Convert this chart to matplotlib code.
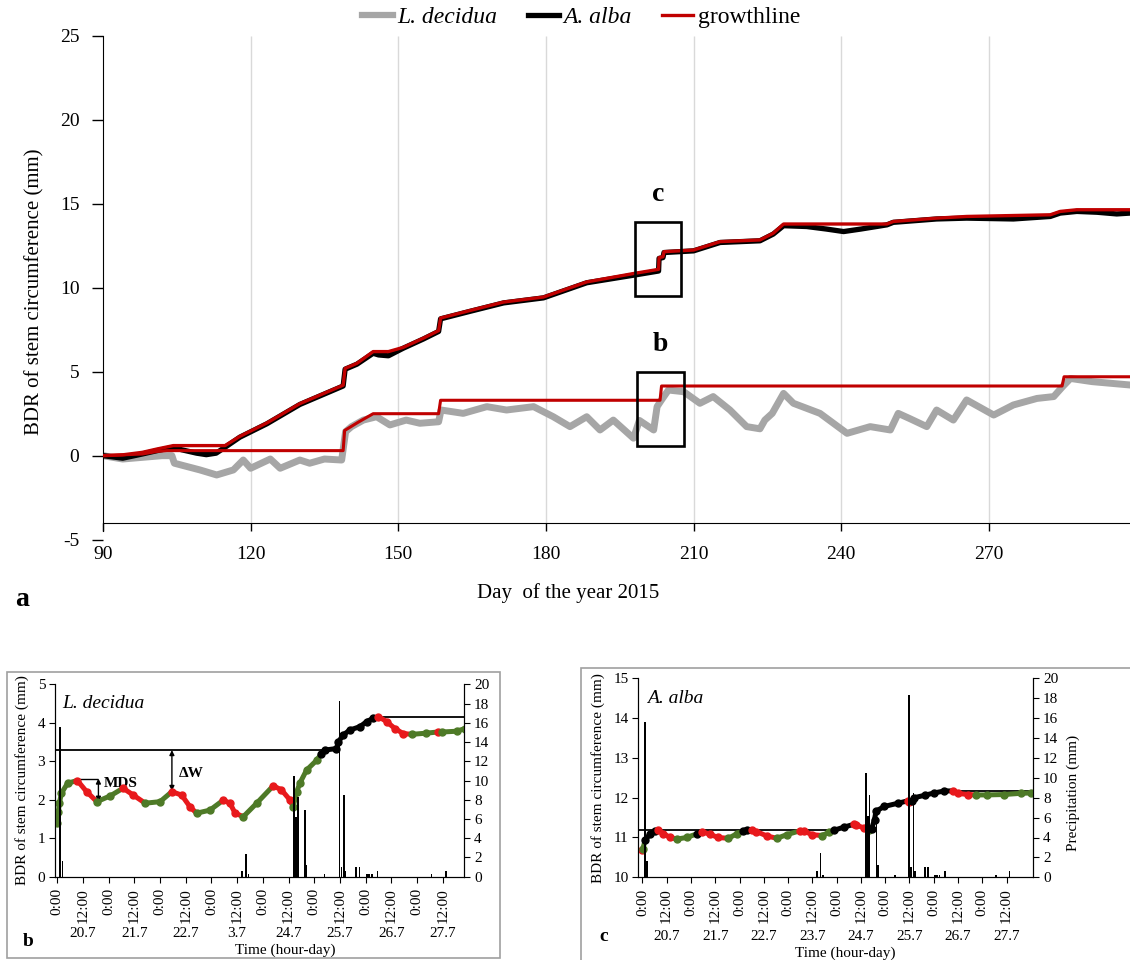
import matplotlib
matplotlib.use('Agg')
import matplotlib.pyplot as plt
from matplotlib.patches import Rectangle
from matplotlib.lines import Line2D
import numpy as np

plt.rcParams['font.family'] = ['Liberation Serif', 'DejaVu Serif']
plt.rcParams['axes.unicode_minus'] = False

# ---- panel a: day of year 2015 ----
alba_day = [90, 94, 98, 101, 104.3, 106, 109, 111, 113, 114.8, 117.8, 123.3, 130, 134.8, 138.8, 139.2,
            141.6, 144.9, 146, 148, 151, 155.1, 158.2, 158.6, 164.6, 171.4, 179.5, 188.3, 197.8, 201.9,
            202.9, 203.0, 203.8, 204.0, 210, 215.4, 223.5, 226.2, 228.3, 233, 237, 240.5, 244, 249.3,
            250.6, 259.4, 265.5, 275, 282.5, 284.5, 287.9, 292, 296, 298.7]
alba_bdr = [0, -0.15, 0.1, 0.3, 0.5, 0.35, 0.15, 0.06, 0.15, 0.5, 1.1, 1.9, 3.05, 3.65, 4.15, 5.15,
            5.45, 6.1, 6.0, 5.95, 6.4, 6.95, 7.4, 8.15, 8.6, 9.1, 9.4, 10.3, 10.75, 10.95,
            11.0, 11.75, 11.8, 12.1, 12.2, 12.7, 12.8, 13.2, 13.7, 13.65, 13.5, 13.35, 13.5, 13.75,
            13.9, 14.1, 14.15, 14.1, 14.25, 14.45, 14.55, 14.5, 14.4, 14.45]

alba_growth_day = [90, 94, 98, 101, 104.3, 114.8, 117.8, 123.3, 130, 134.8, 138.8, 139.2, 141.6, 144.9,
                   148, 151, 155.1, 158.2, 158.6, 164.6, 171.4, 179.5, 188.3, 197.8, 201.9, 202.9,
                   203.0, 203.8, 204.0, 210, 215.4, 223.5, 226.2, 228.3, 249.3, 250.6, 259.4, 265.5,
                   282.5, 284.5, 287.9, 298.7]
alba_growth = [0, 0.05, 0.2, 0.4, 0.6, 0.6, 1.15, 1.95, 3.1, 3.7, 4.2, 5.2, 5.5, 6.2,
               6.2, 6.45, 7.0, 7.45, 8.2, 8.65, 9.15, 9.45, 10.35, 10.85, 11.05, 11.1,
               11.8, 11.85, 12.15, 12.25, 12.75, 12.85, 13.25, 13.8, 13.8, 13.95, 14.15, 14.25,
               14.35, 14.55, 14.65, 14.65]

dec_day = [90, 94, 98, 102, 104, 104.5, 109.7, 113.1, 116.5, 118.5, 120, 124, 126, 130, 132, 135, 138.5,
           139.3, 140.5, 142.9, 145.6, 148.3, 151.6, 154.4, 158.2, 158.7, 163.2, 168, 172, 177.5,
           181.5, 184.9, 188.3, 191, 193.7, 197.8, 199, 201.9, 202.6, 203.5, 204.9, 208, 211.3, 214,
           217.4, 220.8, 223.5, 224.5, 226, 228.3, 230.3, 235.7, 241.2, 245.9, 250, 251.6, 254,
           257.4, 259.4, 262.8, 265.5, 271, 275, 279.8, 283.2, 285, 286.6, 291, 298.7]
dec_bdr = [0, -0.2, -0.1, 0, 0, -0.45, -0.85, -1.15, -0.85, -0.26, -0.75, -0.2, -0.75, -0.26, -0.45, -0.2, -0.26,
           1.43, 1.73, 2.12, 2.32, 1.83, 2.12, 1.93, 2.02, 2.72, 2.52, 2.92, 2.72, 2.92,
           2.32, 1.73, 2.32, 1.53, 2.12, 1.04, 2.1, 1.53, 2.92, 3.32, 3.91, 3.81, 3.12, 3.52,
           2.72, 1.73, 1.6, 2.12, 2.52, 3.71, 3.12, 2.52, 1.33, 1.73, 1.53, 2.52, 2.2,
           1.73, 2.72, 2.12, 3.32, 2.42, 3.02, 3.41, 3.52, 4.11, 4.6, 4.41, 4.21]

dec_growth_day = [90, 98, 101, 103, 138.8, 139.1, 140.5, 141.9, 144.9, 158.2, 158.6, 203.2, 203.5,
                  284.9, 285.3, 298.7]
dec_growth = [0, 0.1, 0.25, 0.3, 0.3, 1.5, 1.75, 2.0, 2.5, 2.5, 3.3, 3.3, 4.15, 4.15, 4.7, 4.7]

# zoom windows shown in a: (label, day0, day1, bdr0, bdr1)
zoom_boxes = [('c', 198.1, 207.4, 9.51, 13.94), ('b', 198.5, 208.0, 0.58, 4.99)]

# ---- panels b and c: time in days from 20.7 0:00 ----
b_t = [0.0, 0.02, 0.04, 0.08, 0.2, 0.39, 0.57, 0.77, 1.03, 1.28, 1.48, 1.71, 2.0, 2.23, 2.42, 2.58,
       2.71, 2.97, 3.23, 3.36, 3.46, 3.62, 3.88, 4.2, 4.36, 4.53, 4.59, 4.66, 4.72, 4.85, 5.05, 5.14,
       5.2, 5.43, 5.47, 5.56, 5.69, 5.89, 6.02, 6.15, 6.25, 6.41, 6.57, 6.73, 6.9, 7.18, 7.4, 7.48,
       7.77, 7.93]
b_v = [1.39, 1.69, 1.91, 2.17, 2.43, 2.5, 2.21, 1.95, 2.1, 2.3, 2.12, 1.91, 1.95, 2.21, 2.12, 1.82,
       1.65, 1.73, 1.99, 1.91, 1.65, 1.56, 1.91, 2.36, 2.26, 1.99, 1.82, 2.21, 2.43, 2.77, 3.03, 3.2,
       3.29, 3.33, 3.5, 3.68, 3.81, 3.9, 4.03, 4.12, 4.16, 4.03, 3.85, 3.72, 3.7, 3.73, 3.76, 3.76,
       3.78, 3.85]
b_phase = list('ggggg' 'rr' 'g' 'g' 'rr' 'g' 'g' 'rrr' 'g' 'g' 'rrr' 'g' 'g' 'rrr' 'g' 'gggg'
               'kkkkkkkkk' 'rrrr' 'gg' 'r' 'ggg')

c_t = [0.0, 0.01, 0.06, 0.16, 0.26, 0.33, 0.43, 0.57, 0.71, 0.91, 1.12, 1.22, 1.39, 1.56, 1.77, 1.94,
       2.08, 2.15, 2.25, 2.35, 2.56, 2.77, 2.97, 3.25, 3.32, 3.49, 3.7, 3.84, 3.94, 4.15, 4.35, 4.39,
       4.56, 4.67, 4.72, 4.78, 4.81, 4.98, 5.26, 5.46, 5.5, 5.55, 5.6, 5.81, 6.01, 6.22, 6.39, 6.49,
       6.7, 6.87, 7.1, 7.45, 7.79, 8.0]
c_v = [10.69, 10.72, 10.94, 11.09, 11.17, 11.18, 11.1, 11.0, 10.96, 11.0, 11.09, 11.15, 11.08, 11.0,
       10.98, 11.09, 11.17, 11.2, 11.2, 11.15, 11.04, 10.98, 11.07, 11.17, 11.17, 11.07, 11.05, 11.13,
       11.18, 11.26, 11.33, 11.32, 11.24, 11.2, 11.22, 11.45, 11.66, 11.78, 11.86, 11.92, 11.9, 11.92,
       12.0, 12.06, 12.12, 12.17, 12.17, 12.11, 12.08, 12.07, 12.07, 12.08, 12.11, 12.12]
c_phase = list('r' 'g' 'kkk' 'rrr' 'gg' 'k' 'rrr' 'gg' 'kk' 'rrr' 'gg' 'rrr' 'gg' 'kk' 'rrr' 'g'
               'kkkkk' 'rr' 'kkkkk' 'rrr' 'ggggg')

rain_t = [0.05, 0.10, 3.59, 3.67, 3.72, 4.60, 4.64, 4.68, 4.82, 4.85, 5.20, 5.49, 5.53, 5.58, 5.61,
          5.82, 5.88, 6.02, 6.07, 6.12, 6.23, 7.28, 7.56]
rain_mm = [15.6, 1.6, 0.6, 2.4, 0.25, 10.5, 6.2, 8.3, 6.9, 1.2, 0.25, 18.3, 1.0, 8.5, 0.6, 1.0, 1.0,
           0.25, 0.25, 0.25, 0.6, 0.25, 0.6]

b_dates = ['20.7', '21.7', '22.7', '3.7', '24.7', '25.7', '26.7', '27.7']
c_dates = ['20.7', '21.7', '22.7', '23.7', '24.7', '25.7', '26.7', '27.7']
hour_labels = ['0:00', '12:00'] * 8

GRAY = '#A6A6A6'
RED = '#C00000'
phase_col = {'g': '#4E7A27', 'r': '#E8191C', 'k': 'black'}

W, H = 1130, 960
fig = plt.figure(figsize=(W / 100, H / 100), dpi=100)


def fx(px):
    return px / W


def fy(py):
    return 1 - py / H


# ---------------- panel a ----------------
ax = fig.add_axes([fx(103), fy(539.6), fx(1027), 503.6 / H])
ax.set_xlim(90, 298.7)
ax.set_ylim(-5, 25)
ax.vlines(range(120, 271, 30), -4, 25, color='#D9D9D9', lw=1, zorder=0)
ax.plot(dec_day, dec_bdr, color=GRAY, lw=5, zorder=2)
ax.plot(alba_day, alba_bdr, color='black', lw=3.8, zorder=3)
ax.plot(dec_growth_day, dec_growth, color=RED, lw=2.2, zorder=4)
ax.plot(alba_growth_day, alba_growth, color=RED, lw=2.4, zorder=4)

for lab, d0, d1, y0, y1 in zoom_boxes:
    ax.add_patch(Rectangle((d0, y0), d1 - d0, y1 - y0, fill=False, ec='black', lw=1.9, zorder=5))
    ax.text((d0 + d1) / 2, y1 + 0.9, lab, ha='center', va='bottom', fontsize=20, fontweight='bold')

for s in ['top', 'right']:
    ax.spines[s].set_visible(False)
ax.spines['bottom'].set_position(('data', -4))
ax.spines['left'].set_bounds(-4.5, 25)
ax.set_xticks(range(90, 271, 30))
ax.set_yticks(range(-5, 26, 5))
ax.tick_params(axis='y', direction='out', length=8, width=1, pad=9, labelsize=14)
ax.tick_params(axis='x', direction='out', length=6, width=1, pad=11, labelsize=14)

fig.text(fx(35), fy(292), 'BDR of stem circumference (mm)', rotation=90, ha='center', va='center', fontsize=15)
fig.text(fx(568), fy(593), 'Day  of the year 2015', ha='center', va='center', fontsize=15)
fig.text(fx(22), fy(600), 'a', ha='center', va='center', fontsize=20, fontweight='bold')

handles = [Line2D([], [], color=GRAY, lw=4.5), Line2D([], [], color='black', lw=3.8),
           Line2D([], [], color=RED, lw=2.4)]
leg = fig.legend(handles, ['L. decidua', 'A. alba', 'growthline'], loc='center', ncol=3,
                 bbox_to_anchor=(fx(581), fy(17)), frameon=False, fontsize=17,
                 handlelength=1.3, handletextpad=0.2, columnspacing=1.3)
leg.get_texts()[0].set_fontstyle('italic')
leg.get_texts()[1].set_fontstyle('italic')


# ---------------- panels b, c ----------------
def draw_phases(axx, t, v, ph):
    i, n = 0, len(t)
    while i < n:
        j = i
        while j + 1 < n and ph[j + 1] == ph[i]:
            j += 1
        end = min(j + 2, n)
        col = phase_col[ph[i]]
        axx.plot(t[i:end], v[i:end], color=col, lw=3.6, solid_capstyle='round', zorder=3)
        axx.plot(t[i:j + 1], v[i:j + 1], 'o', color=col, ms=5, zorder=4)
        i = j + 1


def detail_panel(rect, t, v, ph, ylim, yticks, xlim, dates, title, hlines):
    axd = fig.add_axes(rect)
    axd.set_xlim(*xlim)
    axd.set_ylim(*ylim)
    for y0, t0, t1 in hlines:
        axd.hlines(y0, t0, t1, color='black', lw=1.3, zorder=2)
    draw_phases(axd, t, v, ph)
    axd.spines['top'].set_visible(False)
    axd.set_yticks(yticks)
    axd.set_xticks(np.arange(0, 8, 0.5))
    axd.set_xticklabels(hour_labels, rotation=90, va='top')
    axd.tick_params(axis='y', direction='out', length=4, pad=3, labelsize=11)
    axd.tick_params(axis='x', direction='out', length=4, pad=4, labelsize=11)
    axd.text(0.1, ylim[1] - (ylim[1] - ylim[0]) * 0.1, title, fontsize=14, fontstyle='italic',
             ha='left', va='center')
    for k, d in enumerate(dates):
        axd.text(k + 0.5, -0.295, d, transform=axd.get_xaxis_transform(), ha='center', va='center',
                 fontsize=11)
    axr = axd.twinx()
    axr.set_ylim(0, 20)
    axr.set_yticks(range(0, 21, 2))
    axr.bar(rain_t, rain_mm, width=0.035, color='black', zorder=5)
    axr.spines['top'].set_visible(False)
    axr.tick_params(axis='y', direction='out', length=4, pad=3, labelsize=11)
    return axd, axr


axb, axbr = detail_panel([fx(55), fy(876.7), fx(409.3), 192.4 / H], b_t, b_v, b_phase,
                         (0, 5), range(0, 6), (-0.045, 7.92), b_dates, 'L. decidua',
                         [(3.29, -0.045, 5.45), (4.16, 6.25, 7.92)])
axb.set_ylabel('BDR of stem circumference (mm)', fontsize=11, labelpad=6)
axb.text(0.562, -0.381, 'Time (hour-day)', transform=axb.transAxes, ha='center', va='center', fontsize=11)
# MDS and delta W markers
axb.hlines(2.55, 0.39, 0.8, color='black', lw=1)
axb.annotate('', xy=(0.8, 1.95), xytext=(0.8, 2.55),
             arrowprops=dict(arrowstyle='<|-|>', color='black', lw=1, mutation_scale=7, shrinkA=0, shrinkB=0))
axb.text(0.9, 2.43, 'MDS', fontsize=11, fontweight='bold', ha='left', va='center')
axb.annotate('', xy=(2.23, 2.23), xytext=(2.23, 3.29),
             arrowprops=dict(arrowstyle='<|-|>', color='black', lw=1, mutation_scale=7, shrinkA=0, shrinkB=0))
axb.text(2.36, 2.68, '\u0394W', fontsize=11, fontweight='bold', ha='left', va='center')

axc, axcr = detail_panel([fx(638.3), fy(877.3), fx(395), 199 / H], c_t, c_v, c_phase,
                         (10, 15), range(10, 16), (-0.084, 8.05), c_dates, 'A. alba',
                         [(11.18, -0.084, 3.95), (12.17, 6.3, 8.05)])
axc.set_ylabel('BDR of stem circumference (mm)', fontsize=11, labelpad=6)
axc.text(0.523, -0.382, 'Time (hour-day)', transform=axc.transAxes, ha='center', va='center', fontsize=11)
fig.text(fx(1073), fy(793), 'Precipitation (mm)', rotation=90, ha='center', va='center', fontsize=11)

fig.text(fx(28), fy(941.7), 'b', ha='center', va='center', fontsize=14, fontweight='bold')
fig.text(fx(603.3), fy(936.7), 'c', ha='center', va='center', fontsize=14, fontweight='bold')

# panel frames
fig.add_artist(Rectangle((fx(7.3), fy(958.3)), fx(500 - 7.3), (958.3 - 671.7) / H,
                         transform=fig.transFigure, fill=False, ec='#A0A0A0', lw=1.2))
fig.add_artist(Rectangle((fx(580.7), -0.01), 0.6, (960 - 668.3) / H + 0.01,
                         transform=fig.transFigure, fill=False, ec='#A0A0A0', lw=1.2))

fig.savefig('out.png', dpi=100)
